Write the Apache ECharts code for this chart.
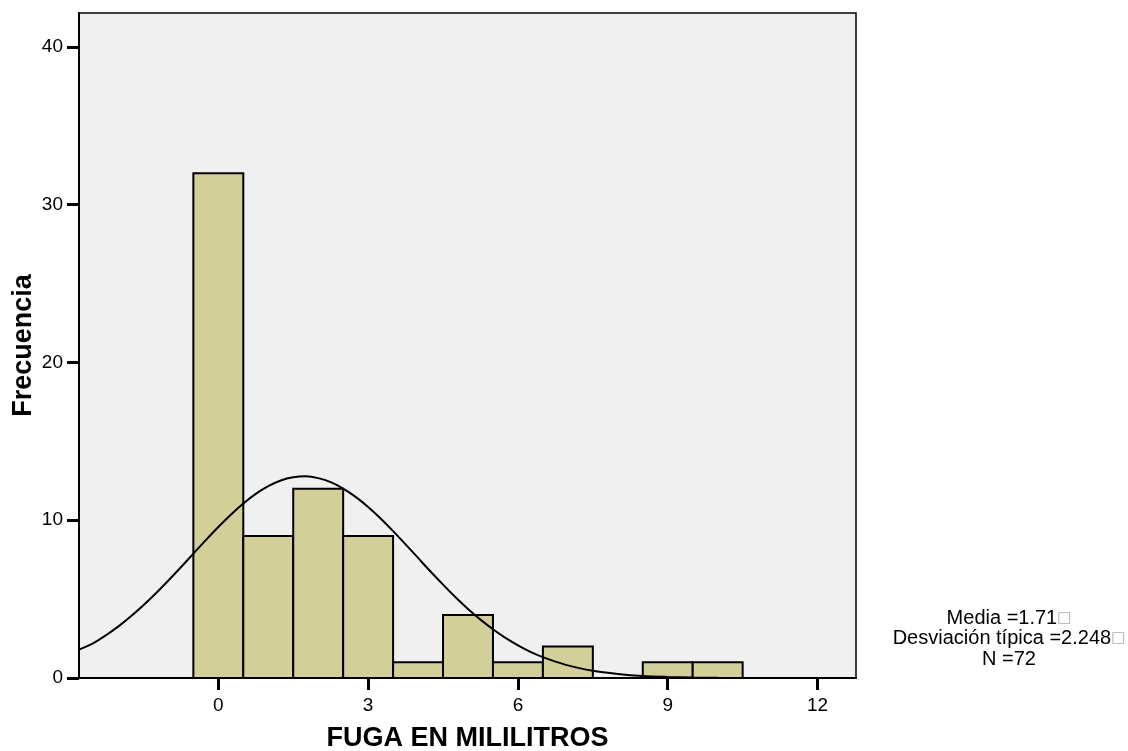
<!DOCTYPE html>
<html>
<head>
<meta charset="utf-8">
<script src="https://cdn.jsdelivr.net/npm/echarts@6/dist/echarts.min.js"></script>
<style>
  html, body { margin: 0; padding: 0; background: #fff; }
  #chart { width: 1128px; height: 751px; }
</style>
</head>
<body>
<div id="chart"></div>
<script>
// bin centres (width 1) and counts
var binCenters = [0, 1, 2, 3, 4, 5, 6, 7, 8, 9, 10];
var binCounts  = [32, 9, 12, 9, 1, 4, 1, 2, 0, 1, 1];

// fitted normal curve
var curveX = [-2.79, -2.5, -2.25, -2, -1.75, -1.5, -1.25, -1, -0.75, -0.5, -0.25, 0, 0.25, 0.5, 0.75, 1, 1.25, 1.5, 1.75, 2, 2.25, 2.5, 2.75, 3, 3.25, 3.5, 3.75, 4, 4.25, 4.5, 4.75, 5, 5.25, 5.5, 5.75, 6, 6.25, 6.5, 6.75, 7, 7.5, 8, 8.5, 9, 9.5, 10, 11, 12, 12.77];
var curveY = [1.8, 2.21, 2.71, 3.27, 3.91, 4.61, 5.37, 6.18, 7.02, 7.88, 8.74, 9.57, 10.35, 11.06, 11.67, 12.16, 12.52, 12.72, 12.78, 12.67, 12.42, 12.01, 11.48, 10.84, 10.11, 9.31, 8.47, 7.61, 6.75, 5.92, 5.12, 4.38, 3.70, 3.09, 2.54, 2.07, 1.66, 1.32, 1.04, 0.80, 0.46, 0.26, 0.13, 0.07, 0.03, 0.01, 0.0, 0.0, 0.0];

var xTicks = [0, 3, 6, 9, 12];
var yTicks = [0, 10, 20, 30, 40];

var statLines = ["Media =1.71", "Desviación típica =2.248", "N =72"];

var FONT = "'Liberation Sans', Arial, sans-serif";

var chart = echarts.init(document.getElementById("chart"), null, { renderer: "canvas" });

var barData = [];
for (var i = 0; i < binCenters.length; i++)
	barData.push([binCenters[i], binCounts[i]]);

var curveData = [];
for (var j = 0; j < curveX.length; j++)
	curveData.push([curveX[j], curveY[j]]);

var statGraphics = [];
for (var k = 0; k < statLines.length; k++)
{
	statGraphics.push({
		type: "text",
		x: 1009,
		y: 618 + k * 20.5,
		style: {
			text: statLines[k] + (k < 2 ? "{b|\u25A1}" : ""),
			font: "20px " + FONT,
			fill: "#000",
			align: "center",
			verticalAlign: "middle",
			rich: { b: { fontSize: 15, fill: "#aaa", fontFamily: "DejaVu Sans" } }
		}
	});
}

var option = {
	backgroundColor: "#fff",
	animation: false,
	grid: {
		left: 79, right: 272, top: 13, bottom: 73,
		containLabel: false,
		outerBoundsMode: "none",
		show: true,
		backgroundColor: "#F0F0F0",
		borderColor: "#000",
		borderWidth: 1.5
	},
	xAxis: {
		type: "value",
		min: -2.79,
		max: 12.77,
		name: "FUGA EN MILILITROS",
		nameLocation: "middle",
		nameGap: 47,
		nameMoveOverlap: false,
		nameTextStyle: { fontFamily: FONT, fontSize: 27, fontWeight: "bold", color: "#000" },
		axisLine: { show: true, onZero: false, lineStyle: { color: "#000", width: 2 } },
		axisTick: { show: true, length: 12, customValues: xTicks, lineStyle: { color: "#000", width: 3 } },
		axisLabel: { customValues: xTicks, margin: 18, fontFamily: FONT, fontSize: 19, color: "#000" },
		splitLine: { show: false }
	},
	yAxis: {
		type: "value",
		min: 0,
		max: 42.15,
		name: "Frecuencia",
		nameLocation: "middle",
		nameGap: 42,
		nameMoveOverlap: false,
		nameTextStyle: { fontFamily: FONT, fontSize: 27, fontWeight: "bold", color: "#000" },
		axisLine: { show: true, onZero: false, lineStyle: { color: "#000", width: 2 } },
		axisTick: { show: true, length: 12, customValues: yTicks, lineStyle: { color: "#000", width: 3 } },
		axisLabel: { customValues: yTicks, margin: 16, fontFamily: FONT, fontSize: 19, color: "#000" },
		splitLine: { show: false }
	},
	series: [
		{
			type: "custom",
			data: barData,
			renderItem: function(params, api)
			{
				var c = api.value(0);
				var h = api.value(1);
				if (h <= 0) return null;
				var p0 = api.coord([c - 0.5, h]);
				var p1 = api.coord([c + 0.5, 0]);
				return {
					type: "rect",
					shape: { x: p0[0], y: p0[1], width: p1[0] - p0[0], height: p1[1] - p0[1] },
					style: { fill: "#D3CF98", stroke: "#000", lineWidth: 2 }
				};
			},
			z: 2
		},
		{
			type: "line",
			data: curveData,
			smooth: 0.3,
			showSymbol: false,
			clip: true,
			lineStyle: { color: "#000", width: 2 },
			z: 3
		}
	],
	graphic: statGraphics
};

chart.setOption(option);
</script>
</body>
</html>
